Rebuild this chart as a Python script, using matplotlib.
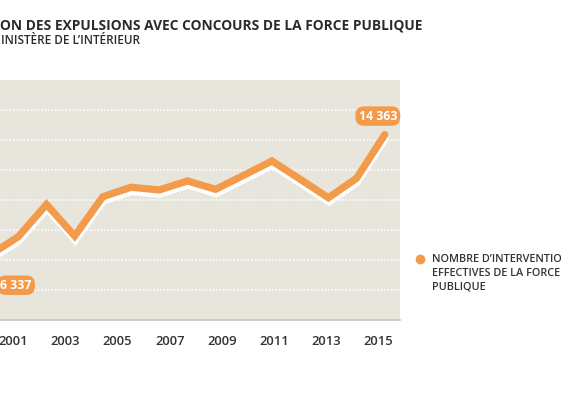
import matplotlib

matplotlib.use("Agg")
import matplotlib.pyplot as plt
import matplotlib.patheffects as pe
from matplotlib.lines import Line2D

# values (Ministère de l'Intérieur)
years = [2001, 2002, 2003, 2004, 2005, 2006, 2007, 2008,
         2009, 2010, 2011, 2012, 2013, 2014, 2015]
interventions = [6337, 7550, 9700, 7600, 10220, 10850, 10670, 11270,
                 10710, 11650, 12600, 11380, 10150, 11450, 14363]
tick_years = [2001, 2003, 2005, 2007, 2009, 2011, 2013, 2015]
grid_values = [4000, 6000, 8000, 10000, 12000, 14000, 16000]

title = "ON DES EXPULSIONS AVEC CONCOURS DE LA FORCE PUBLIQUE"
subtitle = "INISTÈRE DE L’INTÉRIEUR"
legend_lines = ["NOMBRE D’INTERVENTIO", "EFFECTIVES DE LA FORCE", "PUBLIQUE"]

orange = "#f39a4b"
beige = "#e8e5dc"
dark = "#333333"

plt.rcParams["font.family"] = ["Open Sans", "DejaVu Sans"]

W, H = 561, 393
fig = plt.figure(figsize=(W / 100, H / 100), dpi=100)


def fx(px):
    return px / W


def fy(py):
    return 1 - py / H


# panel (left side is cut off by the crop)
ax = fig.add_axes([fx(-24), fy(320), fx(424), 240 / H])
ax.set_facecolor(beige)
ax.set_xlim(2000.5, 2015.54)
ax.set_ylim(2000, 18000)
for s in ["top", "left", "right"]:
    ax.spines[s].set_visible(False)
ax.spines["bottom"].set_color("#c9c5b9")
ax.spines["bottom"].set_linewidth(1.2)
ax.set_xticks([])
ax.set_yticks(grid_values)
ax.tick_params(axis="y", length=0, labelleft=False)
ax.grid(axis="y", color="white", linewidth=1.2, linestyle=(0, (1, 1.1)))
ax.set_axisbelow(True)

ax.plot(
    years,
    interventions,
    color=orange,
    linewidth=5.2,
    solid_joinstyle="miter",
    solid_capstyle="round",
    path_effects=[
        pe.SimpleLineShadow(offset=(0.4, -3), shadow_color="white", alpha=1),
        pe.Normal(),
    ],
    zorder=3,
)

box = dict(boxstyle="round,pad=0.26,rounding_size=0.7", fc=orange, ec="none")
ax.annotate(
    f"{interventions[-1]:,}".replace(",", " "),
    xy=(years[-1], interventions[-1]),
    xytext=(-5, 13.3),
    textcoords="offset points",
    ha="center",
    va="center",
    color="white",
    fontsize=8.8,
    fontweight="bold",
    bbox=box,
    zorder=4,
)
ax.annotate(
    f"{interventions[0]:,}".replace(",", " "),
    xy=(years[0], interventions[0]),
    xytext=(30, -21.8),
    textcoords="offset points",
    ha="right",
    va="center",
    color="white",
    fontsize=8.8,
    fontweight="bold",
    bbox=box,
    zorder=4,
)

# year labels sit on their own scale in the original layout
lab = ax.twiny()
lab.set_xlim(1999.57, 2015.82)
lab.xaxis.set_ticks_position("bottom")
lab.set_xticks(tick_years)
lab.set_xticklabels([str(y) for y in tick_years])
lab.tick_params(axis="x", length=0, pad=11, labelsize=9.4, labelcolor=dark)
for t in lab.get_xticklabels():
    t.set_fontweight("semibold")
for s in lab.spines.values():
    s.set_visible(False)
lab.patch.set_visible(False)

# titles
fig.text(fx(0), fy(29.7), title, ha="left", va="baseline",
         fontsize=9.9, fontweight="bold", color="#2b2b2b")
fig.text(fx(1), fy(44), subtitle, ha="left", va="baseline",
         fontsize=8.5, fontweight="semibold", color="#2b2b2b")

# legend
proxy = Line2D([], [], marker="o", linestyle="", markersize=7,
               markerfacecolor=orange, markeredgecolor="none")
fig.legend(
    handles=[proxy],
    labels=[legend_lines[0]],
    loc="center left",
    bbox_to_anchor=(fx(414.6), fy(260)),
    frameon=False,
    borderpad=0,
    borderaxespad=0,
    handlelength=1,
    handletextpad=0.63,
    prop={"size": 7.8, "weight": "semibold"},
    labelcolor=dark,
)
for line, y in zip(legend_lines[1:], [273.6, 287.3]):
    fig.text(fx(432.3), fy(y), line, ha="left", va="center", fontsize=7.8,
             fontweight="semibold", color=dark)

fig.savefig("out.png", dpi=100, facecolor="white")
